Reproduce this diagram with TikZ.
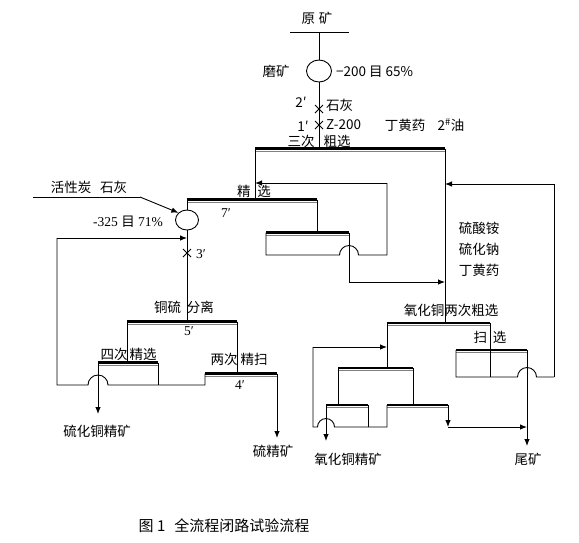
\documentclass[tikz,border=0pt]{standalone}
\usepackage{fontspec}
\setmainfont{Liberation Sans}
\newfontfamily\cjk{Noto Sans CJK SC}
\newfontfamily\serifnum{Liberation Serif}
\usetikzlibrary{arrows.meta,shapes.geometric}
\newcommand\cellbar[4]{%
  \coordinate (#1-l) at (#2,#4);
  \coordinate (#1-r) at (#3,#4);
  \draw[line width=2.6pt] (#1-l) -- (#1-r);
  \draw[line width=0.9pt,gray] ([yshift=-2.8pt]#1-l) -- ([yshift=-2.8pt]#1-r);}
\newcommand\xmark[2]{\draw[line width=0.8pt] (#1-4,#2-4) -- (#1+4,#2+4) (#1-4,#2+4) -- (#1+4,#2-4);}
\begin{document}
\begin{tikzpicture}[x=1pt,y=-1pt,
  flow/.style={line width=0.9pt},
  arr/.style={flow,-{Latex[length=7pt,width=5.5pt]}},
  lbl/.style={inner sep=0pt,font=\cjk\fontsize{13.5}{15}\selectfont},
  num/.style={inner sep=0pt,font=\serifnum\fontsize{13.5}{15}\selectfont},
  mill/.style={draw,ellipse,line width=0.9pt,inner sep=0pt}]
\useasboundingbox[fill=white] (0,0) rectangle (579,542);

% flotation cells
\cellbar{A}{255}{445}{148.5}
\cellbar{B}{187}{317}{199.5}
\cellbar{C}{266}{349}{232.5}
\cellbar{D}{127}{237}{321.5}
\cellbar{E}{98}{158}{362.5}
\cellbar{F}{205}{277}{373.5}
\cellbar{G}{387}{490}{323}
\cellbar{H}{456}{527}{350}
\cellbar{I}{338}{413}{368}
\cellbar{J}{326}{368}{405}
\cellbar{K}{387}{448}{405}

% grinding mills
\node[mill,minimum width=25pt,minimum height=22pt] (mill1) at (319,71) {};
\node[mill,minimum width=23pt,minimum height=20pt] (mill2) at (187,220) {};

% feed
\coordinate (feedL) at (290,32);
\coordinate (feedR) at (349,32);
\coordinate (feedM) at (319,32);
\draw[flow] (feedL) -- (feedR);
\draw[flow] (feedM) -- (mill1.north);
\draw[flow] (mill1.south) -- (mill1.south |- A-l);
\xmark{319}{109}
\xmark{319}{125}

% rougher -> cleaner
\draw[flow] (A-l) -- (A-l |- B-l);
\coordinate (r1) at (387,183);
\coordinate (r2) at (387,255);
\coordinate (hC) at (349,255);
\draw[arr] (r1) -- (r1 -| A-l);
\draw[flow] (r1) -- (r2) -- ([xshift=9.5pt]hC) arc[start angle=0,end angle=180,radius=9.5pt] -- (C-l |- hC) -- (C-l);
\draw[flow] (B-r) -- (B-r |- C-l);
\coordinate (c2) at (349,282);
\draw[arr] (C-r) -- (c2) -- (c2 -| A-r);
\draw[flow] (A-r) -- (A-r |- G-l);

% scavenger loop
\coordinate (s1) at (554,184);
\coordinate (s2) at (554,377);
\coordinate (hH) at (527,377);
\draw[arr] (s2) -- (s1) -- (s1 -| A-r);
\draw[flow] (H-l) -- (H-l |- hH) -- ([xshift=-9.5pt]hH) arc[start angle=180,end angle=0,radius=9.5pt] -- (s2);
\draw[flow] (G-r) -- (G-r |- hH);
\coordinate (tail) at (527,446);
\draw[arr] (H-r) -- (tail);

% oxide cleaners
\draw[flow] (G-l) -- (G-l |- I-l);
\draw[flow] (I-l) -- (I-l |- J-l);
\draw[flow] (I-r) -- (I-r |- K-l);
\coordinate (m1) at (313,347);
\coordinate (m2) at (313,427);
\coordinate (hJ) at (326,427);
\draw[arr] (m1) -- (m1 -| G-l);
\draw[flow] (m1) -- (m2) -- ([xshift=-8.5pt]hJ) arc[start angle=180,end angle=0,radius=8.5pt] -- (hJ -| K-l) -- (K-l);
\draw[flow] (J-r) -- (J-r |- hJ);
\coordinate (oxc) at (326,441);
\draw[arr] (J-l) -- (oxc);
\coordinate (k2) at (448,427);
\draw[arr] (K-r) -- (k2);
\draw[arr] (k2) -- (k2 -| H-r);

% regrind and Cu-S separation
\coordinate (c1) at (33,197);
\coordinate (c1b) at (140,197);
\draw[flow] (c1) -- (c1b);
\draw[arr] (c1b) -- (mill2.140);
\draw[flow] (B-l) -- (mill2.north);
\draw[flow] (mill2.south) -- (mill2.south |- D-l);
\xmark{187}{253}
\coordinate (q1) at (57,238);
\coordinate (q2) at (57,385);
\coordinate (hE) at (98,385);
\draw[arr] (q1) -- (q1 -| B-l);
\draw[flow] (q1) -- (q2) -- ([xshift=-10pt]hE) arc[start angle=180,end angle=0,radius=10pt] -- (hE -| F-l) -- (F-l);
\draw[flow] (D-l) -- (D-l |- E-l);
\draw[flow] (D-r) -- (D-r |- F-l);
\draw[flow] (E-r) -- (E-r |- hE);
\coordinate (cu) at (98,414);
\draw[arr] (E-l) -- (cu);
\coordinate (su) at (277,438);
\draw[arr] (F-r) -- (su);

% labels
\node[lbl] (t1) at (317,18) {原\hspace{4pt}矿};
\node[lbl] (t2) at (276,71) {磨矿};
\node[lbl,anchor=west] (t3) at (336,72) {−200 目 65\%};
\node[lbl] (t4) at (301,102) {2′};
\node[lbl,anchor=west] (t5) at (326,105) {石灰};
\node[lbl] (t6) at (303,126) {1′};
\node[lbl,anchor=west] (t7) at (326,125) {Z-200};
\node[lbl] (t8) at (405,125) {丁黄药};
\node[lbl] (t9) at (451,125) {2\textsuperscript{\#}油};
\node[lbl] (t10) at (301,141) {三次};
\node[lbl] (t11) at (337,141) {粗选};
\node[lbl] (t12) at (254,191) {精\hspace{7pt}选};
\node[num] (t13) at (226,213) {7′};
\node[lbl] (t14) at (89,187) {活性炭\hspace{9pt}石灰};
\node[num] (t15) at (128,222) {-325 {\cjk 目} 71\%};
\node[num] (t16) at (201,254) {3′};
\node[lbl] (t17) at (479,228) {硫酸铵};
\node[lbl] (t18) at (479,249) {硫化钠};
\node[lbl] (t19) at (479,270) {丁黄药};
\node[lbl] (t20) at (451,310) {氧化铜两次粗选};
\node[lbl] (t21) at (490,337) {扫\hspace{6pt}选};
\node[lbl] (t22) at (184,307) {铜硫\hspace{6pt}分离};
\node[num] (t23) at (189,331) {5′};
\node[lbl] (t24) at (114,354) {四次};
\node[lbl] (t25) at (143,354) {精选};
\node[lbl] (t26) at (224,359) {两次};
\node[lbl] (t27) at (254,359) {精扫};
\node[num] (t28) at (240,385) {4′};
\node[lbl] (t29) at (97,431) {硫化铜精矿};
\node[lbl] (t30) at (273,451) {硫精矿};
\node[lbl] (t31) at (348,459) {氧化铜精矿};
\node[lbl] (t32) at (528,459) {尾矿};
\node[lbl,font=\cjk\fontsize{15}{17}\selectfont] (cap) at (224,526) {图 1\hspace{9pt}全流程闭路试验流程};
\end{tikzpicture}
\end{document}
